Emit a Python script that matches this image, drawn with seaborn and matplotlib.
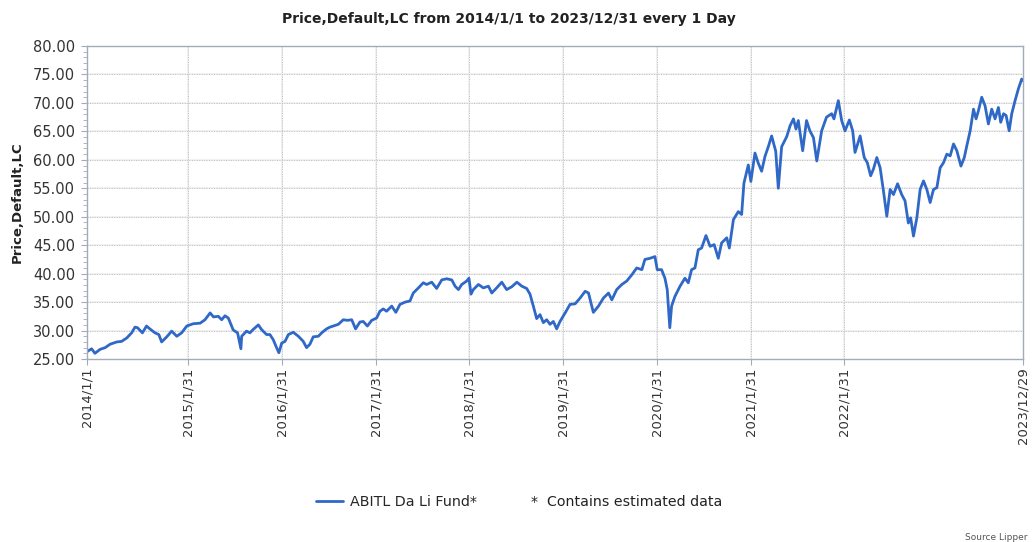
import pandas as pd
import matplotlib
matplotlib.use("Agg")
import matplotlib.pyplot as plt
from matplotlib.ticker import MultipleLocator, FormatStrFormatter
import seaborn as sns

# valores (fecha, precio)
fechas = [
    "2014-01-01", "2014-01-19", "2014-02-01", "2014-02-21", "2014-03-13", "2014-04-01", "2014-04-27",
    "2014-05-16", "2014-06-05", "2014-06-24", "2014-07-07", "2014-07-17", "2014-08-05", "2014-08-21",
    "2014-09-03", "2014-09-23", "2014-10-08", "2014-10-19", "2014-11-08", "2014-11-27", "2014-12-17",
    "2015-01-05", "2015-01-25", "2015-02-19", "2015-03-18", "2015-04-06", "2015-04-26", "2015-05-09",
    "2015-05-28", "2015-06-10", "2015-06-23", "2015-07-06", "2015-07-25", "2015-08-11", "2015-08-24",
    "2015-08-27", "2015-09-15", "2015-09-28", "2015-10-11", "2015-10-31", "2015-11-12", "2015-12-02",
    "2015-12-15", "2015-12-28",
    "2016-01-10", "2016-01-19", "2016-01-30", "2016-02-12", "2016-02-25", "2016-03-15", "2016-04-04",
    "2016-04-23", "2016-05-06", "2016-05-19", "2016-06-01", "2016-06-21", "2016-07-04", "2016-07-23",
    "2016-08-05", "2016-09-07", "2016-09-26", "2016-10-12", "2016-10-29", "2016-11-13", "2016-11-30",
    "2016-12-13", "2016-12-29",
    "2017-01-15", "2017-02-03", "2017-02-16", "2017-03-01", "2017-03-14", "2017-04-03", "2017-04-19",
    "2017-05-05", "2017-05-25", "2017-06-13", "2017-06-26", "2017-07-16", "2017-08-04", "2017-08-17",
    "2017-09-06", "2017-09-25", "2017-10-15", "2017-11-03", "2017-11-23", "2017-12-06", "2017-12-19",
    "2018-01-01", "2018-01-20", "2018-01-29", "2018-02-06", "2018-02-15", "2018-03-07", "2018-03-26",
    "2018-04-15", "2018-04-28", "2018-05-17", "2018-06-06", "2018-06-25", "2018-07-15", "2018-08-04",
    "2018-08-23", "2018-09-11", "2018-09-24", "2018-10-07", "2018-10-20", "2018-11-02", "2018-11-15",
    "2018-11-28", "2018-12-11", "2018-12-24",
    "2019-01-06", "2019-01-19", "2019-02-08", "2019-02-27", "2019-03-19", "2019-04-07", "2019-04-27",
    "2019-05-10", "2019-05-29", "2019-06-18", "2019-07-07", "2019-07-27", "2019-08-09", "2019-08-28",
    "2019-09-17", "2019-10-06", "2019-10-26", "2019-11-14", "2019-12-04", "2019-12-16",
    "2020-01-05", "2020-01-24", "2020-02-02", "2020-02-19", "2020-03-03", "2020-03-12", "2020-03-22",
    "2020-03-29", "2020-04-11", "2020-05-01", "2020-05-20", "2020-06-02", "2020-06-15", "2020-06-28",
    "2020-07-11", "2020-07-24", "2020-08-10", "2020-08-26", "2020-09-11", "2020-09-27", "2020-10-10",
    "2020-10-30", "2020-11-09", "2020-11-25", "2020-12-14", "2020-12-27",
    "2021-01-05", "2021-01-22", "2021-02-01", "2021-02-17", "2021-03-02", "2021-03-15", "2021-03-28",
    "2021-04-10", "2021-04-23", "2021-05-09", "2021-05-19", "2021-06-01", "2021-06-21", "2021-07-04",
    "2021-07-17", "2021-07-27", "2021-08-05", "2021-08-22", "2021-09-06", "2021-09-19", "2021-10-03",
    "2021-10-16", "2021-11-04", "2021-11-23", "2021-12-13", "2021-12-22",
    "2022-01-08", "2022-01-21", "2022-02-03", "2022-02-20", "2022-03-05", "2022-03-14", "2022-04-03",
    "2022-04-19", "2022-05-01", "2022-05-14", "2022-05-25", "2022-06-07", "2022-06-20", "2022-07-03",
    "2022-07-16", "2022-07-29", "2022-08-11", "2022-08-27", "2022-09-12", "2022-09-25", "2022-10-08",
    "2022-10-17", "2022-10-28", "2022-11-10", "2022-11-23", "2022-12-06", "2022-12-19",
    "2023-01-01", "2023-01-14", "2023-01-27", "2023-02-09", "2023-02-22", "2023-03-07", "2023-03-20",
    "2023-04-02", "2023-04-15", "2023-05-01", "2023-05-14", "2023-05-24", "2023-06-06", "2023-06-19",
    "2023-06-29", "2023-07-08", "2023-07-21", "2023-08-03", "2023-08-16", "2023-08-29", "2023-09-11",
    "2023-09-24", "2023-10-03", "2023-10-14", "2023-10-24", "2023-11-05", "2023-11-15", "2023-11-28",
    "2023-12-11", "2023-12-24", "2023-12-29",
]

precios = [
    26.3, 26.8, 26.0, 26.7, 27.0, 27.6, 28.0,
    28.1, 28.7, 29.6, 30.6, 30.5, 29.6, 30.8,
    30.3, 29.6, 29.3, 28.0, 28.9, 29.9, 29.0,
    29.6, 30.8, 31.2, 31.3, 31.9, 33.1, 32.4,
    32.5, 31.9, 32.6, 32.2, 30.1, 29.6, 26.8,
    29.0, 29.9, 29.6, 30.2, 31.0, 30.2, 29.3,
    29.3, 28.4,
    27.0, 26.1, 27.8, 28.1, 29.3, 29.7, 29.0,
    28.1, 27.0, 27.6, 28.9, 29.0, 29.6, 30.3,
    30.6, 31.1, 31.9, 31.8, 31.9, 30.3, 31.5,
    31.6, 30.8,
    31.8, 32.2, 33.4, 33.8, 33.4, 34.3, 33.2,
    34.6, 35.0, 35.2, 36.6, 37.5, 38.4, 38.1,
    38.5, 37.4, 38.9, 39.1, 38.9, 37.8, 37.2,
    38.1, 38.7, 39.2, 36.4, 37.2, 38.1, 37.5,
    37.8, 36.6, 37.5, 38.5, 37.2, 37.7, 38.5,
    37.8, 37.4, 36.4, 34.3, 32.1, 32.8, 31.4,
    31.9, 31.1, 31.6,
    30.3, 31.6, 33.1, 34.6, 34.7, 35.7, 36.9,
    36.6, 33.2, 34.3, 35.7, 36.6, 35.4, 37.2,
    38.1, 38.7, 39.8, 41.0, 40.7, 42.5,
    42.7, 43.0, 40.7, 40.7, 39.2, 37.2, 30.5,
    34.3, 36.0, 37.8, 39.2, 38.4, 40.7, 41.0,
    44.2, 44.5, 46.7, 44.8, 45.1, 42.7, 45.4,
    46.3, 44.5, 49.5, 50.9, 50.4,
    55.9, 59.1, 56.2, 61.2, 59.4, 58.0, 60.6,
    62.3, 64.2, 61.5, 55.0, 62.3, 64.1, 66.0,
    67.2, 65.4, 66.9, 61.6, 66.9, 65.1, 63.9,
    59.8, 65.1, 67.5, 68.1, 67.2,
    70.4, 66.9, 65.1, 67.0, 65.1, 61.3, 64.2,
    60.4, 59.5, 57.2, 58.4, 60.4, 58.6, 54.5,
    50.1, 54.8, 53.9, 55.8, 53.9, 52.8, 48.9,
    49.8, 46.6, 49.8, 54.8, 56.3, 54.8,
    52.5, 54.8, 55.1, 58.6, 59.5, 61.0, 60.7,
    62.8, 61.6, 58.9, 60.4, 62.5, 65.1, 68.9,
    67.2, 68.6, 71.0, 69.5, 66.3, 68.9, 67.2,
    69.2, 66.6, 68.1, 67.8, 65.1, 68.1, 70.4,
    72.5, 74.2, 73.9,
]

tick_fechas = ["2014-01-01", "2015-01-31", "2016-01-31", "2017-01-31", "2018-01-31",
               "2019-01-31", "2020-01-31", "2021-01-31", "2022-01-31", "2023-12-29"]
tick_etiquetas = ["2014/1/1", "2015/1/31", "2016/1/31", "2017/1/31", "2018/1/31",
                  "2019/1/31", "2020/1/31", "2021/1/31", "2022/1/31", "2023/12/29"]
y_ticks = [25, 30, 35, 40, 45, 50, 55, 60, 65, 70, 75, 80]

nombre_fondo = "ABITL Da Li Fund*"
color_linea = "#2f68c6"
color_borde = "#a3abba"

sns.set_style("white")
plt.rcParams["font.family"] = ["DejaVu Sans"]

df = pd.DataFrame({"Fecha": pd.to_datetime(fechas), "Precio": precios})
ticks_x = pd.to_datetime(tick_fechas)

fig = plt.figure(figsize=(10.32, 5.42), dpi=100)
ax = fig.add_axes([0.0843, 0.3376, 0.9070, 0.5775])

# rejilla: banda clara + punteado
for y in y_ticks[1:-1]:
    ax.axhline(y, color="#f1f1f1", lw=1.4, zorder=0)
    ax.axhline(y, color="#bdbdbd", lw=0.7, ls=(0, (1, 1.5)), zorder=0.5)
for x in ticks_x[1:-1]:
    ax.axvline(x, color="#f1f1f1", lw=1.4, zorder=0)
    ax.axvline(x, color="#bdbdbd", lw=0.7, ls=(0, (1, 1.5)), zorder=0.5)

sns.lineplot(data=df, x="Fecha", y="Precio", color=color_linea, linewidth=2.0,
             ax=ax, label=nombre_fondo, legend=False)

ax.set_xlim(ticks_x[0], ticks_x[-1])
ax.set_ylim(y_ticks[0], y_ticks[-1])
ax.set_xticks(ticks_x)
ax.set_xticklabels(tick_etiquetas, rotation=90, fontsize=9.5, color="#333333")
ax.set_yticks(y_ticks)
ax.yaxis.set_major_formatter(FormatStrFormatter("%.2f"))
ax.yaxis.set_minor_locator(MultipleLocator(1))
ax.tick_params(axis="y", which="major", labelsize=10.5, labelcolor="#333333",
               length=4.5, width=0.8, color=color_borde, pad=4, left=True)
ax.tick_params(axis="y", which="minor", length=3, width=0.6, color=color_borde, left=True)
ax.tick_params(axis="x", which="major", length=4, width=0.8, color=color_borde, pad=2, bottom=True)
ax.set_xlabel("")
ax.set_ylabel("")
for s in ax.spines.values():
    s.set_color(color_borde)
    s.set_linewidth(1.0)

fig.text(0.493, 1 - 19 / 542, "Price,Default,LC from 2014/1/1 to 2023/12/31 every 1 Day",
         ha="center", va="center", fontsize=10, fontweight="bold", color="#222222")
fig.text(17 / 1032, 1 - 202 / 542, "Price,Default,LC", rotation=90, ha="center", va="center",
         fontsize=9.5, fontweight="bold", color="#222222")

handles, labels = ax.get_legend_handles_labels()
fig.legend(handles, labels, loc="center left", bbox_to_anchor=(316 / 1032, 1 - 502 / 542),
           frameon=False, fontsize=10.3, handlelength=1.9, handletextpad=0.45,
           borderpad=0, borderaxespad=0)
fig.text(531 / 1032, 1 - 502 / 542, "*  Contains estimated data", ha="left", va="center",
         fontsize=10.2, color="#222222")
fig.text(965 / 1032, 1 - 537 / 542, "Source Lipper", ha="left", va="center",
         fontsize=6.5, color="#555555")

fig.savefig("out.png", dpi=100)
plt.close(fig)
